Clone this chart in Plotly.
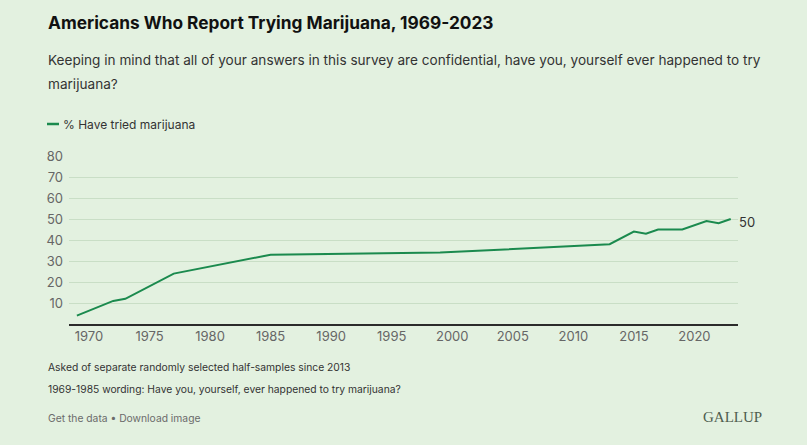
import plotly.graph_objects as go

years = [1969, 1972, 1973, 1977, 1985, 1999, 2013, 2015, 2016, 2017, 2019, 2021, 2022, 2023]
tried = [4, 11, 12, 24, 33, 34, 38, 44, 43, 45, 45, 49, 48, 50]
series_name = "% Have tried marijuana"
x_ticks = [1970, 1975, 1980, 1985, 1990, 1995, 2000, 2005, 2010, 2015, 2020]
y_ticks = [10, 20, 30, 40, 50, 60, 70, 80]

W, H = 807, 445
L, R, T, B = 69, 738, 156, 324
BG = "#E3F1E0"
GREEN = "#1B8A4E"
FONT = "Inter, Lato, Arial, sans-serif"

def px(x):
    return (x - L) / (R - L)

def py(y):
    return (B - y) / (B - T)

fig = go.Figure()
fig.add_trace(go.Scatter(x=years, y=tried, mode="lines", name=series_name,
                         line=dict(color=GREEN, width=2), showlegend=False,
                         hovertemplate="%{x}: %{y}%<extra></extra>"))

fig.update_layout(
    width=W, height=H,
    margin=dict(l=L, r=W - R, t=T, b=H - B, pad=0),
    paper_bgcolor=BG, plot_bgcolor=BG,
    font=dict(family=FONT, color="#333333"),
    xaxis=dict(range=[1968.35, 2023.6], tickvals=x_ticks, showgrid=False,
               showline=True, linecolor="#2b2b2b", linewidth=1.5,
               ticks="", tickfont=dict(size=13, color="#666666"), zeroline=False,
               fixedrange=True),
    yaxis=dict(range=[0, 80], tickvals=y_ticks, showgrid=True, gridcolor="#C9DEC6",
               gridwidth=1, zeroline=False, showline=False, ticks="",
               tickfont=dict(size=13, color="#666666"), ticklabelstandoff=5,
               fixedrange=True),
)

ann = []
def text(x, y, s, size, color="#333333", family=FONT):
    ann.append(dict(xref="paper", yref="paper", x=px(x), y=py(y), text=s,
                    showarrow=False, xanchor="left", yanchor="middle",
                    font=dict(size=size, color=color, family=family)))

text(46, 22, "<b>Americans Who Report Trying Marijuana, 1969-2023</b>", 17.3, "#111111")
text(46, 60, "Keeping in mind that all of your answers in this survey are confidential, have you, yourself ever happened to try", 13.6)
text(46, 84, "marijuana?", 13.6)
text(61, 124, series_name, 12)
text(46, 367, "Asked of separate randomly selected half-samples since 2013", 10.3)
text(46, 389, "1969-1985 wording: Have you, yourself, ever happened to try marijuana?", 10.3)
text(46, 418, "Get the data • Download image", 10.3, "#6b6b6b")
text(701, 417, "GALLUP", 15, "#4f5d4f", family="Liberation Serif, DejaVu Serif, serif")

ann.append(dict(x=years[-1], y=tried[-1], xref="x", yref="y", text=str(tried[-1]),
                showarrow=False, xanchor="left", yanchor="middle", xshift=6, yshift=-3,
                font=dict(size=13, color="#333333", family=FONT)))
fig.update_layout(annotations=ann)

fig.add_shape(type="line", xref="paper", yref="paper", x0=px(47), x1=px(59),
              y0=py(124), y1=py(124), line=dict(color=GREEN, width=2.5))

fig.write_html("out.html", config={"displayModeBar": False},
               post_script="document.body.style.margin='0';document.body.style.background='" + BG + "';")
